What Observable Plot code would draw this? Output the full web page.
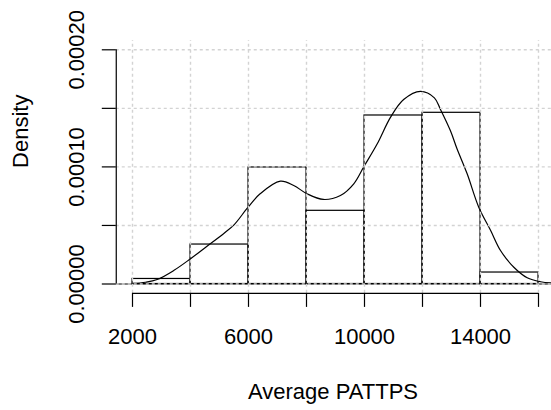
<!DOCTYPE html>
<html>
<head>
<meta charset="utf-8">
<script src="https://cdn.jsdelivr.net/npm/d3@7"></script>
<script src="https://cdn.jsdelivr.net/npm/@observablehq/plot@0.6"></script>
<style>
  html, body { margin: 0; padding: 0; background: #fff; overflow: hidden; }
  svg { overflow: hidden; }
</style>
</head>
<body>
<div id="chart"></div>
<script>
// Histogram bins (Average PATTPS) and their densities
const binStart = [2000, 4000, 6000, 8000, 10000, 12000, 14000];
const binEnd   = [4000, 6000, 8000, 10000, 12000, 14000, 16000];
const binDensity = [0.0000043, 0.0000337, 0.0000995, 0.0000625, 0.0001439, 0.0001462, 0.0000098];

// Kernel density curve
const curveX = [2000, 2450, 2850, 3420, 3970, 4580, 5150, 5500, 5950, 6400, 7100, 7560, 8020, 8580, 9170, 9630, 9980, 10440, 10900, 11350, 11930, 12410, 12620, 12960, 13190, 13540, 13940, 14350, 14690, 15150, 15610, 16070, 16500];
const curveY = [0.0000005, 0.0000015, 0.0000038, 0.0000115, 0.000021, 0.0000325, 0.0000432, 0.0000505, 0.0000645, 0.000077, 0.0000878, 0.0000841, 0.000077, 0.0000722, 0.0000756, 0.0000856, 0.0001003, 0.0001197, 0.0001425, 0.0001575, 0.0001645, 0.000159, 0.000149, 0.000131, 0.0001155, 0.0000941, 0.0000656, 0.0000457, 0.0000286, 0.0000143, 0.0000053, 0.0000019, 0.0000008];

// Axis ticks and labels
const xTicks = [2000, 4000, 6000, 8000, 10000, 12000, 14000, 16000];
const xTickLabels = ["2000", "", "6000", "", "10000", "", "14000", ""];
const yTicks = [0, 0.00005, 0.0001, 0.00015, 0.0002];
const yTickLabels = ["0.00000", "", "0.00010", "", "0.00020"];
const xTitle = "Average PATTPS";
const yTitle = "Density";

// Plot region (R's usr, 4% extension)
const xRegion = [1440, 16560];
const yRegion = [-0.000008, 0.000208];

const bins = binStart.map((s, i) => ({x1: s, x2: binEnd[i], y: binDensity[i]}));
const curve = curveX.map((x, i) => ({x, y: curveY[i]}));

const grid = {stroke: "#d3d3d3", strokeDasharray: "3,3", strokeWidth: 1.4};
const font = "'Liberation Sans', Arial, Helvetica, sans-serif";

const chart = Plot.plot({
  width: 551,
  height: 410,
  marginLeft: 132,
  marginRight: 13,
  marginTop: 49.3,
  marginBottom: 126.5,
  style: {fontFamily: font, fontSize: "22px", background: "#fff", color: "#000"},
  x: {domain: [2000, 16000], axis: null},
  y: {domain: [0, 0.0002], axis: null},
  marks: [
    // histogram bars
    Plot.rect(bins, {x1: "x1", x2: "x2", y1: 0, y2: "y", fill: "none", stroke: "#000", strokeWidth: 1.2}),
    // density curve
    Plot.line(curve, {x: "x", y: "y", curve: "catmull-rom", stroke: "#000", strokeWidth: 1.2}),
    // zero line
    Plot.ruleY([0], {x1: xRegion[0], x2: xRegion[1], stroke: "#000", strokeWidth: 1.2}),
    // grid on top
    Plot.ruleX(xTicks, {y1: yRegion[0], y2: yRegion[1], ...grid}),
    Plot.ruleY(yTicks, {x1: xRegion[0], x2: xRegion[1], ...grid}),
    // axis lines
    Plot.ruleX([xRegion[0]], {y1: 0, y2: 0.0002, stroke: "#000", strokeWidth: 1.2}),
    Plot.ruleY([yRegion[0]], {x1: 2000, x2: 16000, stroke: "#000", strokeWidth: 1.2}),
    // axes
    Plot.axisX({
      ticks: xTicks, tickSize: 14, tickPadding: 21, dy: 9.4, label: null,
      tickFormat: d => xTickLabels[xTicks.indexOf(d)],
      fontSize: 22, strokeWidth: 1.2, stroke: "#000", fill: "#000"
    }),
    Plot.axisY({
      ticks: yTicks, tickSize: 14, tickPadding: 18, tickRotate: -90, dx: -16.2, label: null,
      tickFormat: d => yTickLabels[yTicks.indexOf(d)],
      fontSize: 22, strokeWidth: 1.2, stroke: "#000", fill: "#000"
    }),
    // axis titles
    Plot.text([xTitle], {frameAnchor: "bottom", text: d => d, lineAnchor: "bottom", dy: 114.8, dx: -2.5, fontSize: 22, fill: "#000"}),
    Plot.text([yTitle], {frameAnchor: "left", text: d => d, rotate: -90, lineAnchor: "bottom", dx: -104.5, dy: 1, fontSize: 22, fill: "#000"})
  ]
});
document.getElementById("chart").appendChild(chart);
</script>
</body>
</html>
